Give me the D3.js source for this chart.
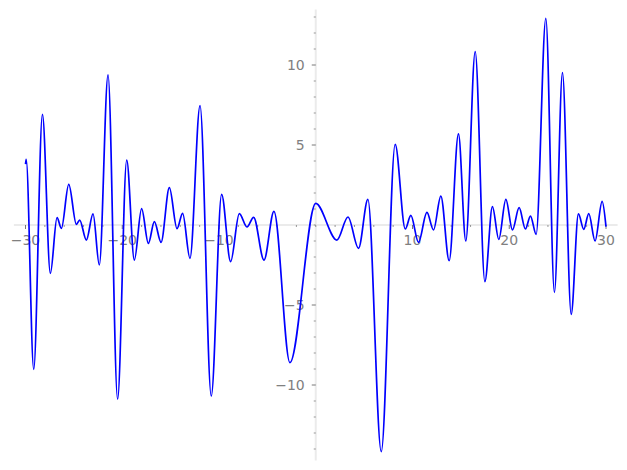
<!DOCTYPE html>
<html>
<head>
<meta charset="utf-8">
<script src="https://cdn.jsdelivr.net/npm/d3@7"></script>
<style>
html, body { margin: 0; padding: 0; background: #fff; }
svg { display: block; }
</style>
</head>
<body>
<svg id="chart" width="627" height="470"></svg>
<script>
// Digitised extrema of the plotted curve (x, y)
const xPts = [-30, -29.93, -29.15, -28.25, -27.43, -26.74, -26.29, -25.53, -24.74, -24.4, -23.71, -23.02, -22.37, -21.47, -20.48, -19.54, -18.75, -18.0, -17.3, -16.68, -15.99, -15.13, -14.34, -13.76, -13.0, -11.96, -10.8, -9.73, -8.8, -7.9, -7.11, -6.42, -5.35, -4.32, -2.67, 0.0, 2.19, 3.33, 4.42, 5.39, 6.77, 8.21, 9.25, 9.83, 10.62, 11.49, 12.17, 12.93, 13.79, 14.75, 15.51, 16.48, 17.48, 18.26, 18.92, 19.65, 20.33, 21.02, 21.67, 22.19, 22.78, 23.78, 24.67, 25.5, 26.4, 27.15, 27.7, 28.22, 28.87, 29.6, 30];
const yPts = [3.8, 4.1, -9.02, 6.92, -3.02, 0.46, -0.21, 2.54, 0.04, 0.31, -0.94, 0.69, -2.5, 9.38, -10.88, 4.06, -2.19, 1.02, -1.15, 0.21, -1.08, 2.33, -0.23, 0.73, -2.08, 7.46, -10.69, 1.92, -2.29, 0.71, -0.125, 0.48, -2.19, 0.85, -8.6, 1.35, -0.94, 0.5, -1.46, 1.6, -14.17, 5.04, -0.25, 0.6, -1.08, 0.79, -0.31, 1.81, -2.23, 5.69, -1.0, 10.83, -3.54, 1.15, -0.9, 1.6, -0.31, 1.08, -0.25, 0.56, -0.58, 12.92, -4.21, 9.52, -5.58, 0.69, -0.27, 0.71, -1.0, 1.48, -0.1];

const xMajorTicks = [-30, -20, -10, 10, 20, 30];
const xMinorTicks = [-28, -26, -24, -22, -18, -16, -14, -12, -8, -6, -4, -2, 0, 2, 4, 6, 8, 12, 14, 16, 18, 22, 24, 26, 28];
const yMajorTicks = [-10, -5, 5, 10];
const yMinorTicks = [-14, -13, -12, -11, -9, -8, -7, -6, -4, -3, -2, -1, 0, 1, 2, 3, 4, 6, 7, 8, 9, 11, 12, 13];

const svg = d3.select("#chart");
const x = d3.scaleLinear().domain([-30, 30]).range([25.5, 606]);
const y = d3.scaleLinear().domain([-10, 10]).range([385, 65]);

const xExt = d3.extent(xPts), yExt = d3.extent(yPts);
const xPad = (xExt[1] - xExt[0]) * 0.02, yPad = (yExt[1] - yExt[0]) * 0.02;

const axisColor = "#ebebeb", tickColor = "#555", labelColor = "#808080";
const font = "'DejaVu Sans', sans-serif";

// axis lines
svg.append("line")
  .attr("x1", x(xExt[0] - xPad)).attr("x2", x(xExt[1] + xPad))
  .attr("y1", y(0)).attr("y2", y(0))
  .attr("stroke", axisColor).attr("stroke-width", 2);
svg.append("line")
  .attr("x1", x(0)).attr("x2", x(0))
  .attr("y1", y(yExt[0] - yPad)).attr("y2", y(yExt[1] + yPad))
  .attr("stroke", axisColor).attr("stroke-width", 2);

// x ticks
svg.append("g").selectAll("line").data(xMajorTicks).join("line")
  .attr("x1", d => x(d)).attr("x2", d => x(d))
  .attr("y1", y(0)).attr("y2", y(0) + 4)
  .attr("stroke", tickColor).attr("stroke-width", 0.8);
svg.append("g").selectAll("line").data(xMinorTicks).join("line")
  .attr("x1", d => x(d)).attr("x2", d => x(d))
  .attr("y1", y(0)).attr("y2", y(0) + 2)
  .attr("stroke", tickColor).attr("stroke-width", 0.6);
svg.append("g").selectAll("text").data(xMajorTicks).join("text")
  .attr("x", d => x(d)).attr("y", y(0) + 20)
  .attr("text-anchor", "middle")
  .attr("font-family", font).attr("font-size", 14)
  .attr("fill", labelColor)
  .text(d => d < 0 ? "\u2212" + Math.abs(d) : String(d));

// y ticks
svg.append("g").selectAll("line").data(yMajorTicks).join("line")
  .attr("x1", x(0) - 4).attr("x2", x(0))
  .attr("y1", d => y(d)).attr("y2", d => y(d))
  .attr("stroke", tickColor).attr("stroke-width", 0.8);
svg.append("g").selectAll("line").data(yMinorTicks).join("line")
  .attr("x1", x(0) - 2).attr("x2", x(0))
  .attr("y1", d => y(d)).attr("y2", d => y(d))
  .attr("stroke", tickColor).attr("stroke-width", 0.6);
svg.append("g").selectAll("text").data(yMajorTicks).join("text")
  .attr("x", x(0) - 11).attr("y", d => y(d) + 5)
  .attr("text-anchor", "end")
  .attr("font-family", font).attr("font-size", 14)
  .attr("fill", labelColor)
  .text(d => d < 0 ? "\u2212" + Math.abs(d) : String(d));

// curve
const pts = xPts.map((v, i) => [v, yPts[i]]);
const line = d3.line().x(d => x(d[0])).y(d => y(d[1])).curve(d3.curveMonotoneX);
svg.append("path").datum(pts)
  .attr("d", line)
  .attr("fill", "none")
  .attr("stroke", "#0000ff")
  .attr("stroke-width", 1.7);
</script>
</body>
</html>
